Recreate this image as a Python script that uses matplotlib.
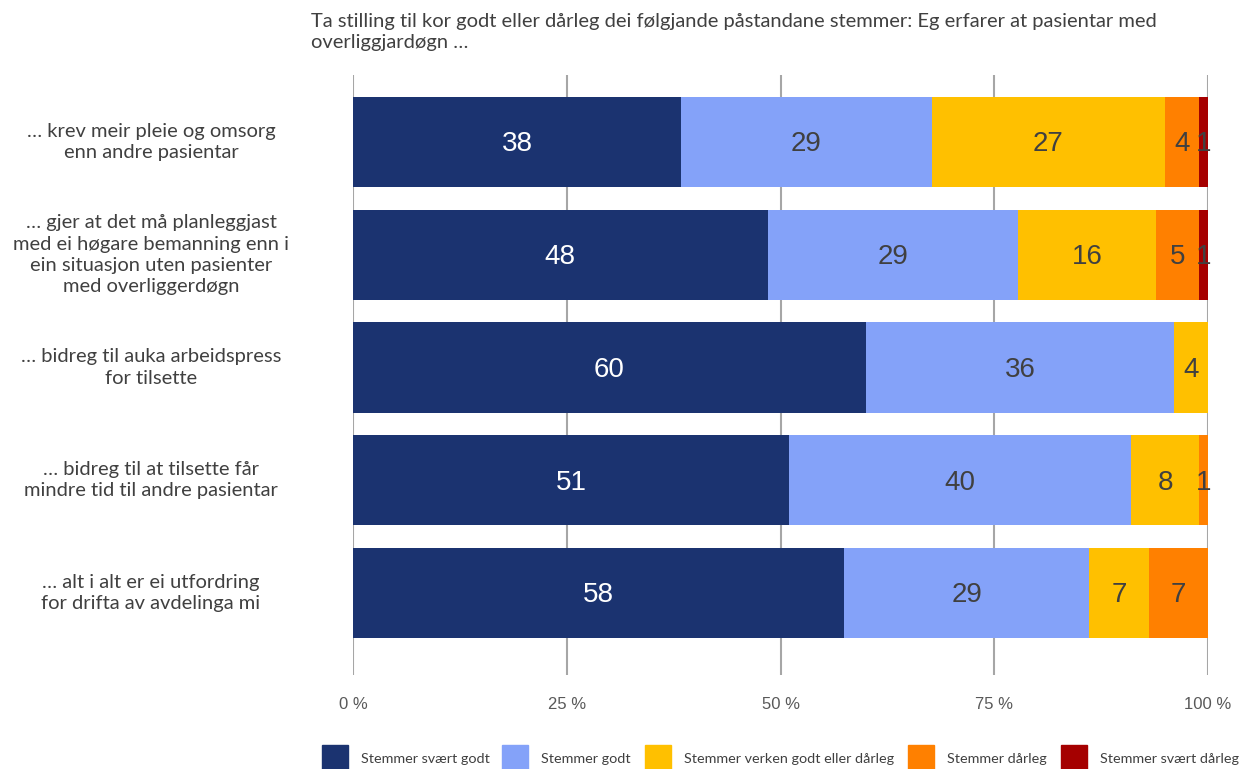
import matplotlib.pyplot as plt
import matplotlib.transforms as mtrans
from matplotlib.patches import Rectangle
import numpy as np

title = ("Ta stilling til kor godt eller dårleg dei følgjande påstandane stemmer: Eg erfarer at pasientar med\n"
         "overliggjardøgn …")

categories = [
    "… krev meir pleie og omsorg\nenn andre pasientar",
    "… gjer at det må planleggjast\nmed ei høgare bemanning enn i\nein situasjon uten pasienter\nmed overliggerdøgn",
    "… bidreg til auka arbeidspress\nfor tilsette",
    "… bidreg til at tilsette får\nmindre tid til andre pasientar",
    "… alt i alt er ei utfordring\nfor drifta av avdelinga mi",
]

series = ["Stemmer svært godt", "Stemmer godt", "Stemmer verken godt eller dårleg",
          "Stemmer dårleg", "Stemmer svært dårleg"]

svaert_godt = [38, 48, 60, 51, 58]
godt = [29, 29, 36, 40, 29]
verken = [27, 16, 4, 8, 7]
daarleg = [4, 5, 0, 1, 7]
svaert_daarleg = [1, 1, 0, 0, 0]

colors = ["#1b3370", "#84a2f9", "#ffc000", "#ff8000", "#a50000"]
text_colors = ["white", "#404040", "#404040", "#404040", "#404040"]

data = np.array([svaert_godt, godt, verken, daarleg, svaert_daarleg], dtype=float)
totals = data.sum(axis=0)
shares = data / totals * 100

fig = plt.figure(figsize=(12.4, 7.69), dpi=100)
W, H = 1240, 769
ax = fig.add_axes([353 / W, 1 - 675 / H, (1208 - 353) / W, 600 / H])

y = np.arange(len(categories))
left = np.zeros(len(categories))
for i in range(len(series)):
    ax.barh(y, shares[i], left=left, height=0.8, color=colors[i], label=series[i], zorder=2)
    for j in range(len(categories)):
        if data[i, j] > 0:
            ax.text(left[j] + shares[i, j] / 2, y[j] + 0.02, f"{int(data[i, j])}",
                    ha="center", va="center", fontsize=20, color=text_colors[i],
                    family="Liberation Sans", zorder=3)
    left += shares[i]

ax.set_xlim(0, 100)
ax.set_ylim(4 + (675 - 593) / 113, -(142 - 75) / 113)
ax.set_xticks([0, 25, 50, 75, 100])
ax.set_xticklabels(["0 %", "25 %", "50 %", "75 %", "100 %"], fontsize=12,
                   color="#595959", family="Liberation Sans")
ax.tick_params(axis="x", length=0, pad=16)
ax.set_yticks([])
ax.grid(axis="x", color="#a6a6a6", linewidth=1.5, zorder=0)
for s in ax.spines.values():
    s.set_visible(False)

trans = mtrans.blended_transform_factory(fig.transFigure, ax.transData)
for j, cat in enumerate(categories):
    fig.text(151 / W, y[j], cat, transform=trans, ha="center", va="center",
             fontsize=14.5, color="#404040", family="Lato", linespacing=1.3)

fig.text(311 / W, 1 - 13 / H, title, ha="left", va="top", fontsize=14.5,
         color="#404040", family="Lato", linespacing=1.3)

# legend
sq_x = [322, 502, 645, 908, 1061]
for i, name in enumerate(series):
    fig.patches.append(Rectangle((sq_x[i] / W, 0), 26 / W, 24 / H,
                                 transform=fig.transFigure, color=colors[i]))
    fig.text((sq_x[i] + 39) / W, 1 - 759 / H, name, ha="left", va="center",
             fontsize=10.4, color="#404040", family="Lato")

fig.savefig("out.png", dpi=100)
